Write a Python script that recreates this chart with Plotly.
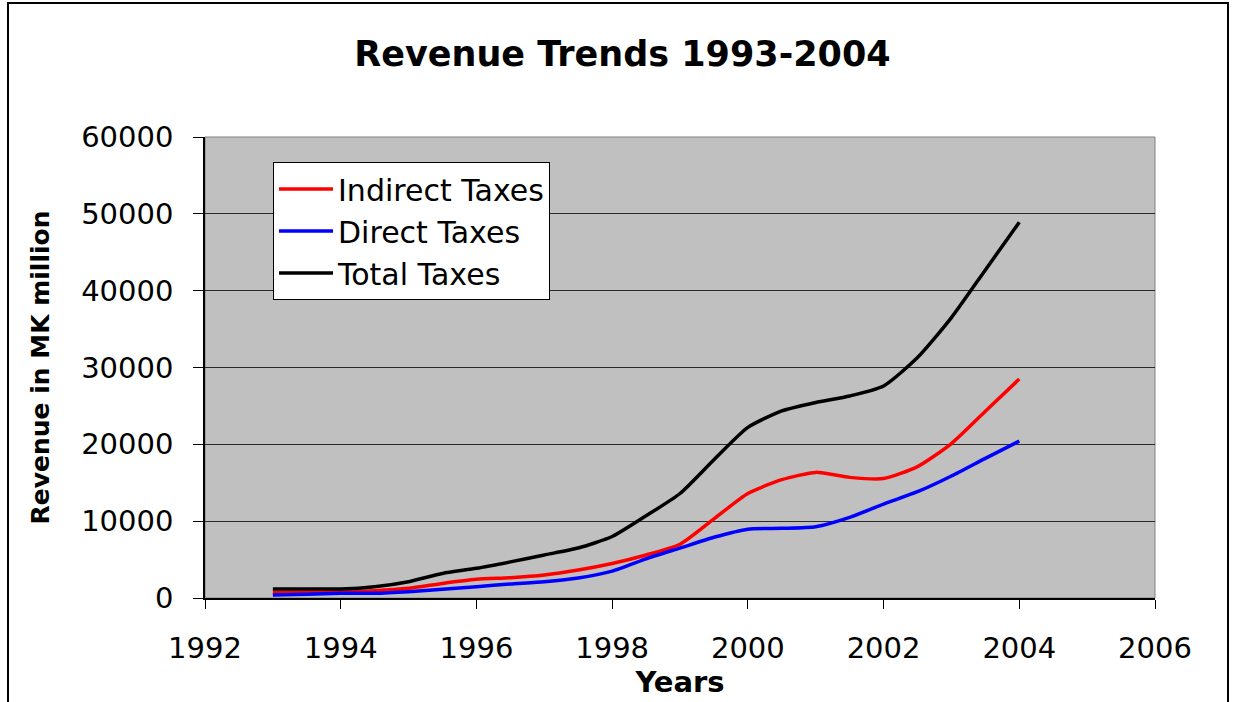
import plotly.graph_objects as go

# Half-yearly revenue readings, MK million
years = [1993, 1993.5, 1994, 1994.5, 1995, 1995.5, 1996, 1996.5, 1997, 1997.5,
         1998, 1998.5, 1999, 1999.5, 2000, 2000.5, 2001, 2001.5, 2002, 2002.5,
         2003, 2003.5, 2004]

indirect_taxes = [700, 760, 820, 950, 1260, 1900, 2430, 2640, 3000, 3650,
                  4500, 5600, 7000, 10300, 13600, 15400, 16350, 15700, 15550, 17100,
                  20100, 24300, 28500]

direct_taxes = [390, 500, 610, 610, 820, 1130, 1470, 1820, 2120, 2600,
                3500, 5100, 6500, 7900, 8950, 9070, 9280, 10500, 12230, 13830,
                15880, 18180, 20430]

total_taxes = [1170, 1170, 1170, 1470, 2120, 3200, 3860, 4700, 5600, 6500,
               8000, 10700, 13600, 18000, 22200, 24350, 25450, 26300, 27600, 31300,
               36500, 42700, 48900]

series_names = ["Indirect Taxes", "Direct Taxes", "Total Taxes"]
series_colors = ["#FF0000", "#0000FF", "#000000"]

x_ticks = [1992, 1994, 1996, 1998, 2000, 2002, 2004, 2006]
y_ticks = [0, 10000, 20000, 30000, 40000, 50000, 60000]

FONT = "DejaVu Sans"

fig = go.Figure()
for name, values, color in zip(series_names,
                               [indirect_taxes, direct_taxes, total_taxes],
                               series_colors):
    fig.add_trace(go.Scatter(
        x=years, y=values, name=name, mode="lines",
        line=dict(color=color, width=3.5, shape="spline", smoothing=0.6),
    ))

fig.update_layout(
    width=1235, height=702,
    margin=dict(l=205, r=80, t=137, b=104, autoexpand=False),
    paper_bgcolor="white",
    plot_bgcolor="#C0C0C0",
    font=dict(family=FONT, color="black"),
    title=dict(
        text="<b>Revenue Trends 1993-2004</b>",
        font=dict(family=FONT, size=35, color="black"),
        x=0.504, xref="container", xanchor="center",
        y=1 - 54 / 702, yref="container", yanchor="middle",
    ),
    legend=dict(
        x=0.0716, y=0.946, xanchor="left", yanchor="top",
        bgcolor="white", bordercolor="#000000", borderwidth=1,
        font=dict(family=FONT, size=30, color="black"),
        itemwidth=54, tracegroupgap=0,
    ),
    xaxis=dict(
        range=[1992, 2006], tickvals=x_ticks, ticktext=[str(v) for v in x_ticks],
        showgrid=False, zeroline=False,
        showline=True, linecolor="black", linewidth=1.5,
        ticks="outside", ticklen=9, tickwidth=1, tickcolor="black",
        tickfont=dict(family=FONT, size=29, color="black"),
        ticklabelstandoff=14,
        title=dict(text="<b>Years</b>", font=dict(family=FONT, size=29, color="black"),
                   standoff=8),
    ),
    yaxis=dict(
        range=[0, 60000], tickvals=y_ticks, tickformat="d",
        showgrid=True, gridcolor="#2a2a2a", gridwidth=1.2, zeroline=False,
        showline=True, linecolor="black", linewidth=1.5,
        ticks="outside", ticklen=10, tickwidth=1, tickcolor="black",
        tickfont=dict(family=FONT, size=29, color="black"),
        ticklabelstandoff=14,
        title=dict(text="<b>Revenue in MK million</b>",
                   font=dict(family=FONT, size=25, color="black"),
                   standoff=24),
    ),
)

# Thin grey frame around the plot area
fig.add_shape(type="rect", xref="paper", yref="paper", x0=0, y0=0, x1=1, y1=1,
              line=dict(color="#808080", width=1), layer="below")

# Outer chart border
fig.add_shape(type="rect", xref="paper", yref="paper",
              x0=(8 - 205) / 950, x1=(1228 - 205) / 950,
              y0=(598 - 712) / 461, y1=(598 - 3) / 461,
              line=dict(color="black", width=2), fillcolor="rgba(0,0,0,0)")

fig.write_html("out.html")
